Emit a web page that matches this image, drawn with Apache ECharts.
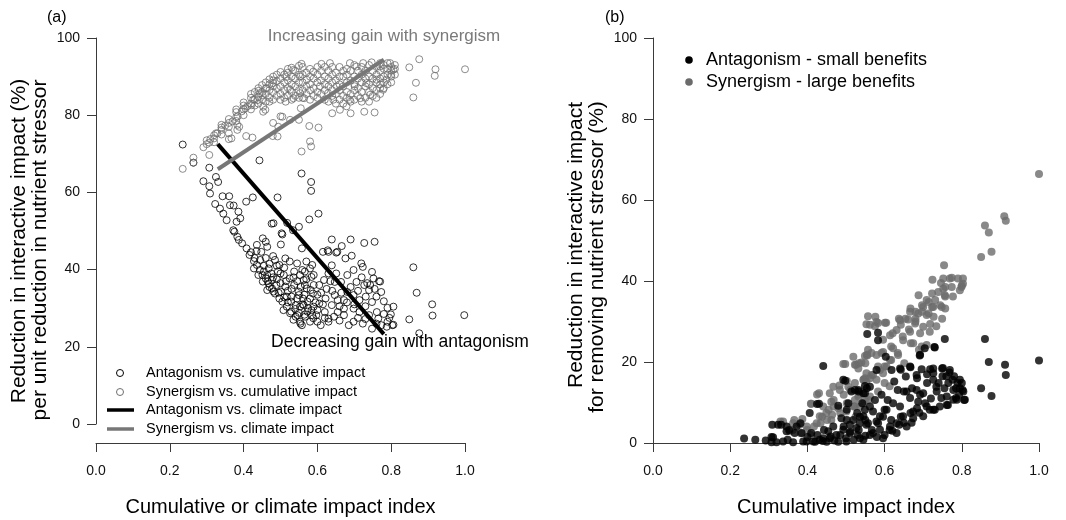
<!DOCTYPE html>
<html>
<head>
<meta charset="utf-8">
<script src="https://cdn.jsdelivr.net/npm/echarts@6/dist/echarts.min.js"></script>
<style>
html,body{margin:0;padding:0;background:#fff;}
#chart{width:1066px;height:520px;}
</style>
</head>
<body>
<div id="chart"></div>
<script>
// ---------- DATA ----------
// Panel (a): interactive impact reduction per unit nutrient reduction vs cumulative impact
const antagCumulative = [
[0.235,72.4],[0.264,67.7],[0.307,66.4],[0.291,62.9],[0.307,61.6],[0.309,59.7],[0.325,64],[0.331,62.7],[0.323,57],[0.336,55.8],
[0.345,54.5],[0.354,52.8],[0.361,59],[0.343,59],[0.363,56.7],[0.386,55],[0.381,52.4],[0.372,50.2],[0.383,48.5],[0.407,57.6],
[0.425,58.7],[0.443,68.3],[0.492,58.7],[0.476,51.9],[0.503,49.4],[0.518,52.1],[0.534,50.2],[0.55,51.1],[0.557,64.9],[0.583,62.7],
[0.583,60.4],[0.578,53],[0.603,54.5],[0.639,47.8],[0.69,47.8],[0.727,46.9],[0.755,47.2],[0.628,45],[0.654,44.6],[0.666,46.1],
[0.375,49.8],[0.387,47.7],[0.373,56.6],[0.391,53.3],[0.396,46.8],[0.408,45.5],[0.416,43.8],[0.428,42.2],[0.436,41.2],[0.444,39.9],
[0.451,38.6],[0.46,37.7],[0.468,36.4],[0.477,35.1],[0.485,33.8],[0.497,32.5],[0.505,31.7],[0.517,30.4],[0.529,29.1],[0.541,27.8],
[0.553,26.5],[0.558,25.6],[0.436,46.4],[0.452,48.1],[0.46,47.2],[0.464,45.9],[0.448,44.6],[0.485,42.5],[0.481,52],[0.505,49.1],
[0.501,46.5],[0.558,45.5],[0.513,42.9],[0.525,42.1],[0.545,41.6],[0.57,42.1],[0.586,41.2],
[0.428,40.3],[0.44,38.6],[0.452,36.9],[0.464,38.6],[0.477,37.3],[0.468,40.3],[0.493,39.5],[0.489,36],[0.501,34.3],[0.513,35.6],
[0.517,33],[0.529,31.7],[0.541,30.8],[0.553,30.4],[0.561,32.5],[0.573,31.7],[0.573,29.1],[0.586,28.2],[0.59,30.4],[0.582,34.7],
[0.566,36],[0.553,38.6],[0.566,39.5],[0.59,38.6],[0.59,36],[0.525,37.7],[0.537,36],[0.549,34.3],[0.537,39.5],[0.509,38.6],
[0.497,41.2],[0.481,34.3],[0.464,34.7],
[0.615,44.6],[0.63,44.6],[0.651,44.4],[0.676,42.9],[0.693,43.6],[0.719,41.6],[0.723,40.7],[0.748,39.4],[0.752,37.7],[0.767,37],
[0.773,34.2],[0.78,31.8],[0.79,30.1],[0.799,28.4],[0.803,25.6],[0.79,26.5],[0.773,25.6],[0.748,24.7],[0.723,26],[0.698,26.5],
[0.685,25.6],[0.672,28.2],[0.672,29.9],[0.672,32.1],[0.655,32.1],[0.63,27.3],[0.63,26.5],[0.609,25.6],[0.554,26],[0.597,28.2],
[0.584,29.5],[0.563,30.8],[0.55,33.4],[0.571,35.1],[0.588,33.8],[0.605,36],[0.618,37.3],[0.63,39],[0.639,41.1],[0.651,39],
[0.664,36.8],[0.681,38.6],[0.698,39.9],[0.706,36.8],[0.727,36],[0.74,34.7],[0.731,33],[0.714,32.1],[0.698,33.4],[0.681,34.2],
[0.647,33.4],[0.622,32.5],[0.605,31.2],[0.563,37.3],[0.559,39.9],[0.58,40.3],[0.584,38.1],[0.647,36.8],[0.748,31.6],[0.761,29],
[0.765,27.3],[0.74,28.2],[0.714,29],[0.698,29.9],[0.655,29],[0.639,30.8],[0.567,27.8],[0.58,26.5],[0.546,28.2],
[0.86,40.6],[0.869,34],[0.911,31],[0.912,28.1],[0.998,28.2],[0.849,27.1],[0.876,23.5],
[0.806,30.4],[0.77,36.9],[0.743,36],[0.806,25.7],[0.788,25.2],[0.589,27.4],[0.535,27],[0.526,28.7],[0.508,29.5],
[0.42,44.5],[0.43,43],[0.435,44.8],[0.445,42.5],[0.455,41],[0.46,43],[0.47,41.5],[0.475,39],[0.48,43.5],[0.49,41],
[0.455,39.5],[0.465,37],[0.47,35.5],[0.48,38],[0.49,37.5],[0.5,36.5],[0.5,39],[0.51,40.5],[0.515,37],[0.52,34.5],
[0.53,33],[0.53,35],[0.535,38],[0.545,37],[0.545,32.5],[0.555,35.5],[0.56,31],[0.565,33.5],[0.57,37.5],[0.575,30],
[0.58,32.5],[0.595,31.5],[0.6,33.5],[0.6,29.5],[0.61,34],[0.62,29],[0.615,31],[0.625,35],[0.635,37],[0.64,34.5],
[0.645,27.8],[0.66,30.5],[0.665,34],[0.68,31.5],[0.69,35.5],[0.7,31],[0.71,34.5],[0.72,38],[0.73,30.5],[0.735,36.5],
[0.755,35],[0.76,33],[0.52,31.5],[0.51,32.8],[0.495,34],[0.54,29.8],[0.55,28.8],[0.565,28.3],[0.6,26.5],[0.62,27.5],
[0.66,26.8],[0.71,27.5],[0.73,27.2],[0.76,26],[0.78,28.5],[0.795,27.5]
];
const synCumulative = [
[0.235,66.1],[0.264,69.0],[0.264,67.7],[0.291,71.7],[0.307,72.9],[0.307,69.7],[0.31,73.8],[0.325,75.3],[0.34,76.2],[0.35,77.3],
[0.36,75.3],[0.36,73.8],[0.37,78.4],[0.384,79.7],[0.395,81],[0.41,82.3],[0.383,77.5],[0.383,76.2],[0.407,74.6],[0.424,74.2],
[0.426,84],[0.444,85.7],[0.462,87],[0.48,88.3],[0.453,80.9],[0.453,82.2],[0.47,83.5],[0.48,78],[0.5,79.7],[0.492,74.5],
[0.5,84],[0.516,89.9],[0.534,91.7],[0.557,93.3],[0.553,90],[0.526,86.6],[0.553,85.7],[0.571,89.2],[0.589,91.3],[0.611,93.3],
[0.634,93.5],[0.607,87.5],[0.629,85.7],[0.643,84],[0.652,87.5],[0.67,90],[0.688,93.5],[0.706,92.6],[0.724,93.5],[0.747,93.7],
[0.77,92.6],[0.797,93.5],[0.806,91.8],[0.8,90.5],[0.787,89.2],[0.77,87],[0.743,85.3],[0.716,84.4],[0.688,84],[0.679,82.3],
[0.661,81.4],[0.64,80.5],[0.69,80.5],[0.727,80.9],[0.755,80.7],[0.701,87.5],[0.733,88.3],[0.76,89.2],[0.778,86.6],
[0.849,92.4],[0.876,94.5],[0.867,88.4],[0.86,84.6],[0.92,91.9],[0.918,90.2],[1.0,91.9],
[0.479,74.6],[0.494,77],[0.578,77.2],[0.603,76.8],[0.58,73.2],[0.583,71.9],[0.557,70.6],[0.55,78.8],[0.526,78.8],
[0.329,75.3],[0.367,74],[0.388,77],[0.405,81.8],[0.421,82.6],[0.438,83.9],[0.451,85.2],[0.459,81.4],[0.505,79.6],[0.514,83.5],
[0.535,84.4],[0.555,81.8],[0.564,84.4],
[0.30,72.5],[0.30,73.5],[0.32,74],[0.32,74.8],[0.32,73],[0.34,75],[0.34,76.8],[0.34,77.5],[0.36,77],[0.36,78],[0.36,79],
[0.38,78.5],[0.38,79.5],[0.38,80.8],[0.38,81.5],[0.40,80],[0.40,81.5],[0.40,82.5],[0.40,83.3],
[0.42,81.5],[0.42,83],[0.42,84.5],[0.42,85.5],[0.43,82.5],[0.43,84],[0.43,86],[0.44,83],[0.44,84.8],[0.44,86.3],[0.44,87],
[0.45,84],[0.45,86],[0.45,87.8],[0.46,83.5],[0.46,85.5],[0.46,87],[0.46,88.5],[0.47,84.5],[0.47,86.5],[0.47,88],[0.47,89.3],
[0.48,84],[0.48,86],[0.48,87.5],[0.48,89],[0.48,90],[0.49,85],[0.49,87],[0.49,88.8],[0.49,90.5],[0.50,85.5],[0.50,87.5],[0.50,89.5],[0.50,91.2],
[0.51,84.5],[0.51,86.5],[0.51,88.5],[0.51,90.5],[0.52,85],[0.52,87],[0.52,89],[0.52,91],[0.52,92],[0.53,84],[0.53,86],[0.53,88],[0.53,90],[0.53,92.3],
[0.54,85],[0.54,87.5],[0.54,89.5],[0.54,91.5],[0.55,84.5],[0.55,86.5],[0.55,88.5],[0.55,90.5],[0.55,92.8],
[0.56,84.5],[0.56,86.5],[0.56,88.5],[0.56,90.5],[0.56,92.5],[0.57,85.5],[0.57,87.5],[0.57,91],[0.58,84],[0.58,86.5],[0.58,88],[0.58,90],[0.58,92],
[0.59,85],[0.59,87],[0.59,89.5],[0.60,84.5],[0.60,86],[0.60,88.5],[0.60,90.5],[0.60,92.5],[0.61,85.5],[0.61,89],[0.61,91.5],
[0.62,84],[0.62,86.5],[0.62,88],[0.62,90],[0.62,92.5],[0.63,83.5],[0.63,87.5],[0.63,89.5],[0.63,91.5],[0.64,85],[0.64,86.5],[0.64,88.5],[0.64,90.5],[0.64,92.5],
[0.65,83],[0.65,85.5],[0.65,89],[0.65,91],[0.66,84],[0.66,86.5],[0.66,88],[0.66,90],[0.66,92.5],[0.67,83],[0.67,85],[0.67,87.5],[0.67,91.5],
[0.68,84.5],[0.68,86],[0.68,88.5],[0.68,90.5],[0.68,92],[0.69,83.5],[0.69,85.5],[0.69,89],[0.69,91.5],[0.70,84],[0.70,86.5],[0.70,88],[0.70,90],[0.70,93],
[0.71,85],[0.71,87],[0.71,89.5],[0.71,91.5],[0.72,83.5],[0.72,86],[0.72,88.5],[0.72,90.5],[0.72,92.5],[0.73,84.5],[0.73,87.5],[0.73,89.5],[0.73,91.5],
[0.74,83.5],[0.74,86],[0.74,88],[0.74,90],[0.74,93],[0.75,85],[0.75,87],[0.75,89.5],[0.75,91.5],[0.76,84.5],[0.76,86.5],[0.76,88.5],[0.76,90.5],[0.76,92.5],
[0.77,85.5],[0.77,88],[0.77,89.5],[0.77,91.5],[0.77,93.5],[0.78,87],[0.78,88.5],[0.78,90],[0.78,92],[0.78,93],[0.79,88],[0.79,90.5],[0.79,92],[0.79,93.5],
[0.80,88.5],[0.80,90],[0.80,91.5],[0.80,92.5],[0.81,90.5],[0.81,92],[0.81,93]
];
// Panel (a): fitted lines vs climate impact
const antagClimateLine = [[0.33,72.5],[0.78,23.3]];
const synClimateLine = [[0.33,66.0],[0.78,94.4]];

// Panel (b): reduction in interactive impact for removing nutrient stressor
const antagBenefit = [
[0.236,1.1],[0.265,0.8],[0.292,0.6],[0.307,0.2],[0.307,1.5],[0.309,4.5],[0.324,4.5],[0.32,0.2],[0.337,0.4],[0.346,2.9],
[0.346,4.1],[0.363,0.2],[0.367,2.5],[0.372,4.1],[0.382,4.9],[0.385,2.5],[0.389,0.4],[0.406,7.4],[0.415,0.4],[0.425,9.6],
[0.441,19.0],[0.441,1.2],[0.454,2.9],[0.467,4.1],[0.48,9.2],[0.488,6.1],[0.493,15.6],[0.501,0.4],[0.506,9.8],[0.51,2.5],
[0.514,12.7],[0.532,13.1],[0.536,4.9],[0.545,12.3],[0.549,14.1],[0.555,26.9],[0.583,27.2],[0.583,25.4],[0.579,18],[0.603,21.3],
[0.618,18],[0.64,18.4],[0.655,16.4],[0.666,18.9],[0.683,16.8],[0.696,18.2],[0.691,21.6],[0.704,23.4],[0.726,18.4],[0.73,23.6],
[0.749,18.4],[0.756,25.7],[0.769,18],[0.795,15.6],[0.804,12.7],[0.808,10.7],[0.787,10.7],[0.761,11.5],[0.743,9],[0.717,8.2],
[0.7,6.6],[0.674,6.1],[0.648,6.6],[0.631,4.9],[0.614,4.1],[0.588,3.3],[0.562,2.0],[0.536,1.2],
[0.85,13.5],[0.86,25.7],[0.87,20],[0.877,11.6],[0.912,19.3],[0.914,16.8],[1.0,20.4],
[0.795,13.5],[0.778,13.1],[0.765,14.8],[0.735,12.7],[0.7,12.3],[0.687,10.2],[0.666,11.1],[0.683,13.1],[0.657,12.7],[0.64,9],
[0.622,9.8],[0.605,8.2],[0.588,6.6],[0.57,7.8],[0.579,5.3],[0.553,4.5],[0.545,6.6],[0.527,3.7],[0.51,4.5],[0.493,3.3],
[0.475,2.0],[0.458,1.2],[0.432,0.8],[0.398,0.4],[0.596,1.2],[0.631,2.5],[0.657,4.1],[0.674,7.8],[0.709,9],[0.73,8.2],
[0.761,9.4],[0.778,10.7],
[0.311,1.4],[0.332,4.5],[0.353,3.2],[0.349,0.8],[0.43,9.7],[0.498,15.4],[0.502,8.2],[0.523,13.1],[0.549,8.2],[0.562,13.9],
[0.549,12.3],[0.502,5.7],[0.443,3.2],[0.426,2],[0.46,1.6],[0.485,2],[0.511,2.8],[0.557,4.9],[0.536,6.5],[0.562,9],
[0.519,5.7],[0.494,4.1],[0.545,0.8],
[0.692,21.8],[0.729,23.7],[0.642,18.1],[0.667,18.7],[0.718,18.2],[0.726,17.2],[0.751,18.5],[0.768,17.4],[0.776,15.6],[0.789,14.8],
[0.802,13.1],[0.806,10.6],[0.785,11.1],[0.764,9.4],[0.747,11.1],[0.734,13.9],[0.71,14.8],[0.684,16],[0.671,13.5],[0.65,12.7],
[0.625,15.2],[0.634,13.1],[0.692,11.9],[0.705,9.8],[0.726,8.2],[0.684,8.6],[0.667,7.4],[0.642,6.5],[0.638,4.5],[0.617,5.7],
[0.6,8.2],[0.608,10.6],[0.592,11.9],[0.575,10.6],[0.554,13.5],[0.533,12.7],[0.542,9.8],[0.529,7.4],[0.55,5.7],[0.567,3.2],
[0.533,3.2],[0.583,4.9],[0.596,6.5],[0.613,3.2],[0.6,2.0],[0.726,15.6],[0.755,13.5],[0.785,13.5],[0.793,11.9],
[0.4,1.5],[0.41,2.5],[0.42,0.3],[0.44,0.5],[0.45,0.3],[0.47,0.6],[0.48,0.3],[0.5,1.2],[0.52,0.8],[0.53,2],
[0.55,1.8],[0.57,2.5],[0.58,1.5],[0.62,3],[0.65,5],[0.67,5],[0.69,7.5],[0.72,11],[0.74,14.8],[0.76,16.5],
[0.78,16.5],[0.8,14.8],[0.71,17],[0.75,16.5]
];
const synBenefit = [
[1.0,66.4],[0.86,53.7],[0.87,52],[0.91,56],[0.914,54.9],[0.877,47.2],[0.85,45.9],
[0.754,43.9],[0.724,40.3],[0.746,39.5],[0.769,40.6],[0.79,40.6],[0.803,40.6],[0.799,38.5],[0.803,39.3],[0.757,38.5],
[0.774,38.5],[0.795,37.7],[0.777,36.2],[0.757,36.2],[0.723,36.9],[0.688,36.5],[0.709,35.3],[0.731,35.3],[0.697,34],[0.723,33.6],
[0.744,34],[0.757,33.2],[0.667,33.2],[0.68,32.4],[0.697,32.4],[0.714,32],[0.727,31.2],[0.576,31.2],[0.637,30.7],[0.654,30.7],
[0.68,30.7],[0.749,30.7],
[0.752,40.6],[0.774,40.8],[0.8,38.9],[0.752,38.1],[0.756,36.5],[0.739,37.3],[0.714,34.8],[0.7,33.6],[0.726,33.6],[0.748,33.6],
[0.666,32.4],[0.687,32],[0.709,31.6],[0.553,29.3],[0.557,31.3],[0.579,29.9],[0.601,29.7],[0.64,30.3],[0.661,30.5],[0.679,29.5],
[0.7,28.7],[0.717,27.5],[0.666,27.5],[0.631,27.9],[0.614,26.6],[0.648,25.4],[0.674,24.6],[0.696,23.8],[0.622,23.4],[0.596,22.5],
[0.579,21.7],[0.557,23],[0.549,21.5],[0.614,20.5],[0.635,21.7],[0.605,18.9],[0.588,18],[0.57,16.8],[0.553,17.2],[0.532,18.4],
[0.523,19.3],[0.493,19.5],[0.545,15.6],[0.523,14.8],[0.506,13.9],[0.484,13.1],[0.467,13.9],[0.458,12.3],[0.425,12.0],[0.41,9.7],
[0.441,9],[0.462,10.2],[0.48,8.6],[0.501,7.8],[0.523,9],[0.545,9.8],[0.562,11.5],[0.583,12.7],[0.432,6.6],[0.449,7.4],
[0.424,4.9],[0.398,4.1],[0.38,4.5],[0.363,4.9],[0.337,5.3],[0.354,2.9],[0.462,5.7],
[0.562,29.2],[0.555,21.6],[0.498,19.5],[0.526,19.3],[0.54,19.9],[0.502,15.3],[0.483,14.2],[0.43,12.3],[0.409,9.7],[0.455,8.2],
[0.468,9],[0.438,6.5],[0.366,5.7],[0.387,5.9],[0.33,5.3],[0.362,3.2],[0.511,13.1],[0.523,10.6],[0.549,10.6],[0.553,15.2],
[0.562,16],[0.485,7.4],[0.502,9.8],[0.536,9],[0.532,11.5],[0.464,7],[0.451,5.7],[0.434,4.9],[0.417,4.1],[0.4,3.2],
[0.383,2.4],[0.409,2.0],[0.468,10.6],[0.494,11.9],[0.566,22.2],[0.549,16],[0.519,21.3],
[0.583,29.6],[0.604,29.7],[0.642,29.2],[0.68,30],[0.718,29.4],[0.734,28.8],[0.663,28],[0.692,27.1],[0.621,27.1],[0.647,26.3],
[0.668,24.6],[0.689,23],[0.617,23.8],[0.592,22.2],[0.634,22.2],[0.651,19.7],[0.617,20.5],[0.6,18.9],[0.583,18.9],[0.566,16.8],
[0.55,19.7],[0.533,19.7],[0.554,21.8],[0.596,17.2],[0.579,15.6],[0.6,14.8],[0.613,14],[0.546,15.6],[0.533,11.9],[0.52,9],
[0.525,6.5],[0.558,10.6],[0.709,24.2],[0.575,28.8],[0.596,25.5]
];

const xTicks = {min: 0, max: 1, step: 0.2};
const yTicks = {min: 0, max: 100, step: 20};

// ---------- STYLE ----------
const FONT = "'Liberation Sans', Arial, Helvetica, sans-serif";
const GREY = '#6f6f6f';
const AXIS = '#3a3a3a';

const chart = echarts.init(document.getElementById('chart'), null, {renderer: 'canvas'});

function xAxisCfg(grid, name, visible) {
  return {
    gridIndex: grid, type: 'value', min: xTicks.min, max: xTicks.max, interval: xTicks.step,
    show: visible,
    name: visible ? name : '', nameLocation: 'middle', nameGap: 54,
    nameTextStyle: {fontFamily: FONT, fontSize: 20, color: '#000'},
    axisLine: {show: true, lineStyle: {color: AXIS, width: 1}},
    axisTick: {show: true, length: 9, lineStyle: {color: AXIS}},
    axisLabel: {margin: 21, fontFamily: FONT, fontSize: 14, color: '#111',
      formatter: v => v.toFixed(1), hideOverlap: false, showMinLabel: true, showMaxLabel: true},
    splitLine: {show: false}
  };
}
function yAxisCfg(grid, visible, min) {
  return {
    gridIndex: grid, type: 'value', min: min, max: yTicks.max, interval: yTicks.step,
    show: visible,
    axisLine: {show: true, lineStyle: {color: AXIS, width: 1}},
    axisTick: {show: true, length: 9, lineStyle: {color: AXIS}},
    axisLabel: {margin: 16, fontFamily: FONT, fontSize: 14, color: '#111', hideOverlap: false,
      showMinLabel: true, showMaxLabel: true},
    splitLine: {show: false}
  };
}

const option = {
  animation: false,
  backgroundColor: '#fff',
  grid: [
    // panel (a) data area
    {left: 96, top: 38, width: 369, height: 386, outerBoundsMode: 'none', containLabel: false},
    // panel (b)
    {left: 653, top: 38, width: 386, height: 405, outerBoundsMode: 'none', containLabel: false},
    // panel (a) detached x axis (R style), sits below the data area
    {left: 96, top: 38, width: 369, height: 405, outerBoundsMode: 'none', containLabel: false}
  ],
  xAxis: [
    xAxisCfg(0, '', false),
    xAxisCfg(1, 'Cumulative impact index', true),
    xAxisCfg(2, 'Cumulative or climate impact index', true)
  ],
  yAxis: [yAxisCfg(0, true, yTicks.min), yAxisCfg(1, true, yTicks.min), yAxisCfg(2, false, yTicks.min)],
  series: [
    {type: 'scatter', name: 'Antagonism vs. cumulative impact', xAxisIndex: 0, yAxisIndex: 0,
     data: antagCumulative, symbol: 'circle', symbolSize: 7, clip: false, z: 2,
     itemStyle: {color: 'rgba(0,0,0,0)', borderColor: '#000', borderWidth: 1}},
    {type: 'scatter', name: 'Synergism vs. cumulative impact', xAxisIndex: 0, yAxisIndex: 0,
     data: synCumulative, symbol: 'circle', symbolSize: 7, clip: false, z: 2,
     itemStyle: {color: 'rgba(0,0,0,0)', borderColor: GREY, borderWidth: 1}},
    {type: 'line', name: 'Antagonism vs. climate impact', xAxisIndex: 0, yAxisIndex: 0,
     data: antagClimateLine, symbol: 'none', z: 5, lineStyle: {color: '#000', width: 4}},
    {type: 'line', name: 'Synergism vs. climate impact', xAxisIndex: 0, yAxisIndex: 0,
     data: synClimateLine, symbol: 'none', z: 5, lineStyle: {color: '#777', width: 4}},
    {type: 'scatter', name: 'Synergism - large benefits', xAxisIndex: 1, yAxisIndex: 1,
     data: synBenefit, symbol: 'circle', symbolSize: 8, clip: false, z: 2,
     itemStyle: {color: '#6b6b6b'}},
    {type: 'scatter', name: 'Antagonism - small benefits', xAxisIndex: 1, yAxisIndex: 1,
     data: antagBenefit, symbol: 'circle', symbolSize: 8, clip: false, z: 3,
     itemStyle: {color: '#000'}}
  ],
  graphic: [
    // panel labels
    {type: 'text', left: 47, top: 10, style: {text: '(a)', font: '16px ' + FONT, fill: '#000'}},
    {type: 'text', left: 605, top: 10, style: {text: '(b)', font: '16px ' + FONT, fill: '#000'}},
    // y titles (a)
    {type: 'text', x: 19, y: 241, rotation: Math.PI / 2,
     style: {text: 'Reduction in interactive impact (%)', font: '21px ' + FONT, fill: '#000', align: 'center', verticalAlign: 'middle'}},
    {type: 'text', x: 40, y: 250, rotation: Math.PI / 2,
     style: {text: 'per unit reduction in nutrient stressor', font: '21px ' + FONT, fill: '#000', align: 'center', verticalAlign: 'middle'}},
    // y titles (b)
    {type: 'text', x: 576, y: 245, rotation: Math.PI / 2,
     style: {text: 'Reduction in interactive impact', font: '21px ' + FONT, fill: '#000', align: 'center', verticalAlign: 'middle'}},
    {type: 'text', x: 597, y: 257, rotation: Math.PI / 2,
     style: {text: 'for removing nutrient stressor (%)', font: '21px ' + FONT, fill: '#000', align: 'center', verticalAlign: 'middle'}},
    // annotations
    {type: 'text', x: 384, y: 36, style: {text: 'Increasing gain with synergism', font: '17px ' + FONT, fill: '#7a7a7a', align: 'center', verticalAlign: 'middle'}},
    {type: 'text', x: 400, y: 342, z: 10, style: {text: 'Decreasing gain with antagonism', font: '17.5px ' + FONT, fill: '#000', align: 'center', verticalAlign: 'middle'}},
    // legend (a)
    {type: 'circle', shape: {cx: 120, cy: 373, r: 3.5}, style: {fill: 'none', stroke: '#000', lineWidth: 1}},
    {type: 'text', x: 146, y: 373, style: {text: 'Antagonism vs. cumulative impact', font: '14.5px ' + FONT, fill: '#000', verticalAlign: 'middle'}},
    {type: 'circle', shape: {cx: 120, cy: 392, r: 3.5}, style: {fill: 'none', stroke: GREY, lineWidth: 1}},
    {type: 'text', x: 146, y: 392, style: {text: 'Synergism vs. cumulative impact', font: '14.5px ' + FONT, fill: '#000', verticalAlign: 'middle'}},
    {type: 'line', shape: {x1: 107, y1: 410, x2: 134, y2: 410}, style: {stroke: '#000', lineWidth: 3.5}},
    {type: 'text', x: 146, y: 410, style: {text: 'Antagonism vs. climate impact', font: '14.5px ' + FONT, fill: '#000', verticalAlign: 'middle'}},
    {type: 'line', shape: {x1: 107, y1: 429, x2: 134, y2: 429}, style: {stroke: '#777', lineWidth: 3.5}},
    {type: 'text', x: 146, y: 429, style: {text: 'Synergism vs. climate impact', font: '14.5px ' + FONT, fill: '#000', verticalAlign: 'middle'}},
    // legend (b)
    {type: 'circle', shape: {cx: 689, cy: 60, r: 3.8}, style: {fill: '#000'}},
    {type: 'text', x: 706, y: 60, style: {text: 'Antagonism - small benefits', font: '18px ' + FONT, fill: '#000', verticalAlign: 'middle'}},
    {type: 'circle', shape: {cx: 689, cy: 82, r: 3.8}, style: {fill: '#6b6b6b'}},
    {type: 'text', x: 706, y: 82, style: {text: 'Synergism - large benefits', font: '18px ' + FONT, fill: '#000', verticalAlign: 'middle'}}
  ]
};
chart.setOption(option);
</script>
</body>
</html>
